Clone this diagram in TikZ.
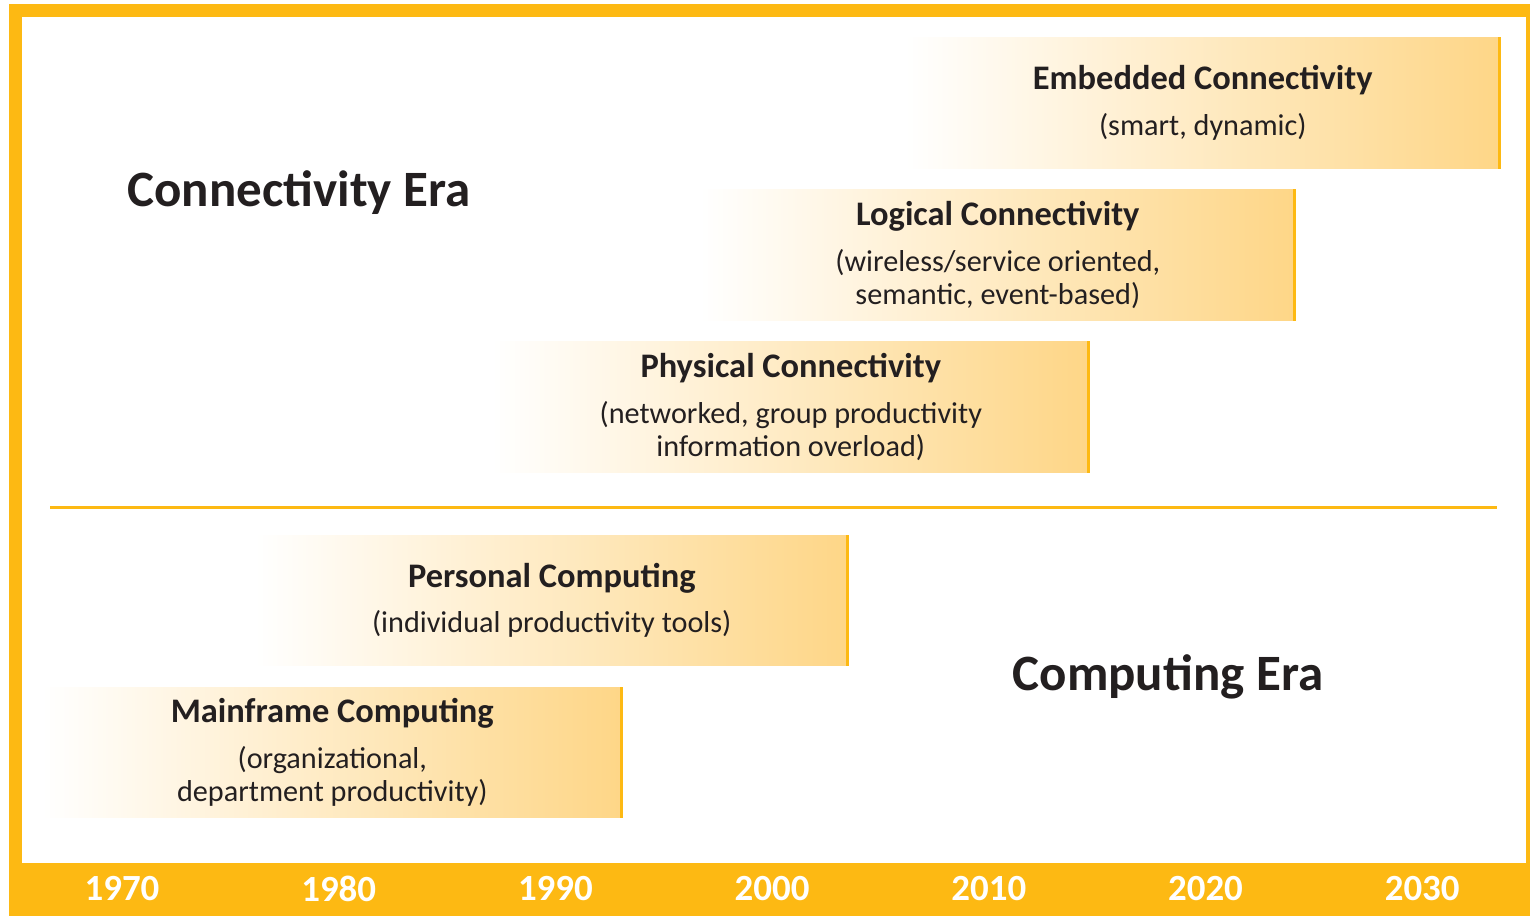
\documentclass[tikz,border=0pt]{standalone}
\usepackage{fontspec}
\setmainfont{Carlito}
\usetikzlibrary{positioning}
\definecolor{eraorange}{RGB}{253,185,19}
\definecolor{boxtint}{RGB}{254,214,135}
\definecolor{inktext}{RGB}{35,31,32}

\begin{document}
\begin{tikzpicture}[
  x=0.02cm, y=-0.02cm,
  era box/.style={anchor=north west, inner sep=0pt, align=center, text=inktext,
    left color=white, right color=boxtint, minimum height=2.62cm,
    font=\fontsize{17.2}{18.7}\selectfont},
  box edge/.style={draw=eraorange, line width=0.06cm},
  era label/.style={font=\fontsize{29}{32}\selectfont\bfseries, text=inktext},
  year label/.style={font=\fontsize{21}{21}\selectfont\bfseries, text=white}
]
\useasboundingbox (0,0) rectangle (1530,916);

% frame and time axis
\fill[eraorange] (9,4) rectangle (1530,916);
\fill[white] (22,17) rectangle (1526,863);

% connectivity era
\node[era box, minimum width=11.9cm] (embedded) at (905,37)
  {\textbf{\fontsize{19.6}{18.7}\selectfont Embedded Connectivity}\\[7.3pt] (smart, dynamic)};
\node[era box, minimum width=11.9cm] (logical) at (700,189)
  {\textbf{\fontsize{19.6}{18.7}\selectfont Logical Connectivity}\\[7.3pt] (wireless/service oriented,\\ semantic, event-based)};
\node[era box, minimum width=11.94cm] (physical) at (492,341)
  {\textbf{\fontsize{19.6}{18.7}\selectfont Physical Connectivity}\\[7.3pt] (networked, group productivity\\ information overload)};
\node[era label] (connectivity) at (299,193) {Connectivity Era};

\coordinate (rule left) at (50,507);
\coordinate (rule right) at (1497,507);
\draw[eraorange, line width=0.06cm] (rule left) -- (rule right);

% computing era
\node[era box, minimum width=11.86cm, minimum height=2.6cm] (personal) at (255,535)
  {\textbf{\fontsize{19.6}{18.7}\selectfont Personal Computing}\\[7.3pt] (individual productivity tools)};
\node[era box, minimum width=11.6cm, minimum height=2.6cm] (mainframe) at (42,687)
  {\textbf{\fontsize{19.6}{18.7}\selectfont Mainframe Computing}\\[7.3pt] (organizational,\\ department productivity)};
\node[era label] (computing) at (1168,677) {Computing Era};

\foreach \b in {embedded,logical,physical,personal,mainframe}
  \draw[box edge] ([xshift=-0.03cm]\b.north east) -- ([xshift=-0.03cm]\b.south east);

\foreach \yr [count=\i from 0] in {1970,1980,1990,2000,2010,2020,2030}
  \node[year label] (y\yr) at (122+216.7*\i,889) {\yr};

\end{tikzpicture}
\end{document}
